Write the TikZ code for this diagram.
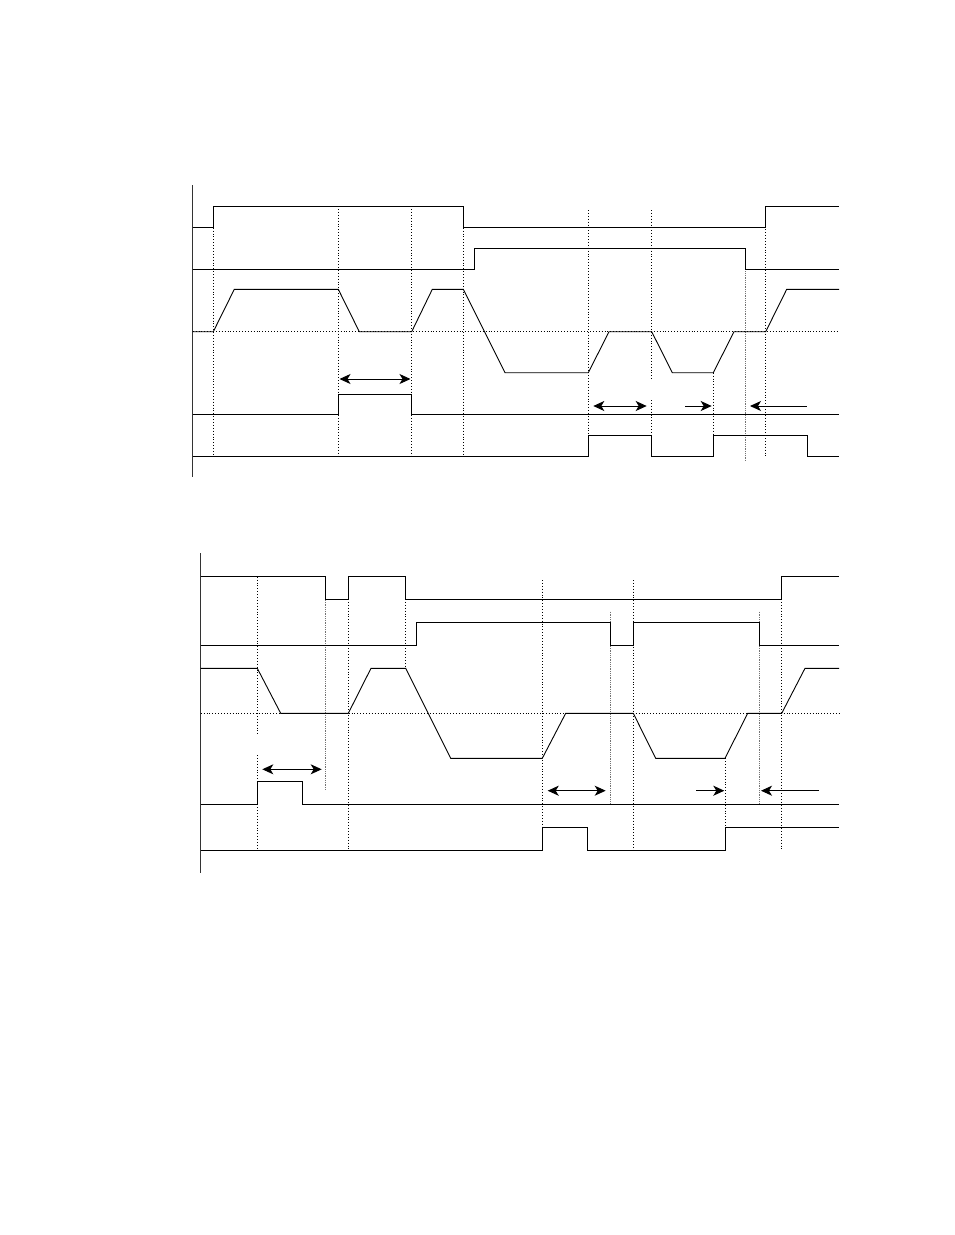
\documentclass[tikz,border=0pt]{standalone}
\usetikzlibrary{arrows.meta}
\begin{document}
\begin{tikzpicture}[x=1pt,y=-1pt,
  sig/.style={line width=0.9pt,black},
  vdot/.style={dotted,line width=0.9pt,black},
  gdot/.style={densely dotted,line width=0.8pt,black!55},
  axisline/.style={line width=1pt,black!80},
  tipx/.tip={Stealth[length=11pt,width=10pt,inset=3pt]},
  darr/.style={line width=1pt,tipx-tipx},
  rarr/.style={line width=1pt,-tipx}]
\useasboundingbox (0,0) rectangle (954,1235);

% ================= TOP DIAGRAM =================
\draw[axisline] (192.7,185) -- (192.7,476.7);
% dotted verticals
\draw[vdot] (213.3,227.7) -- (213.3,456);
\draw[vdot] (338.3,209) -- (338.3,456);
\draw[vdot] (411.7,209) -- (411.7,456);
\draw[vdot] (463.3,227.7) -- (463.3,456);
\draw[vdot] (588.3,210) -- (588.3,456);
\draw[vdot] (651.7,210) -- (651.7,380);
\draw[vdot] (651.7,400) -- (651.7,456);
\draw[vdot] (713.3,372.7) -- (713.3,435);
\draw[gdot] (745,269.3) -- (745,461.7);
\draw[vdot] (765.7,206) -- (765.7,456);
\draw[vdot] (192.7,331.7) -- (839,331.7);
% signal 1
\draw[sig] (192.7,227.7) -- (213.3,227.7) -- (213.3,206) -- (463.3,206) -- (463.3,227.7)
  -- (765.7,227.7) -- (765.7,206) -- (839,206);
% signal 2
\draw[sig] (192.7,269.3) -- (474.3,269.3) -- (474.3,248.3) -- (745,248.3) -- (745,269.3) -- (839,269.3);
% signal 3
\draw[sig] (192.7,331.7) -- (213.3,331.7) -- (234.3,289.3) -- (338.3,289.3) -- (359.3,331.7)
  -- (411.7,331.7) -- (432.3,289.3) -- (463.3,289.3) -- (505,372.7) -- (588.3,372.7)
  -- (609,331.7) -- (651.7,331.7) -- (672.3,372.7) -- (713.3,372.7) -- (734,331.7)
  -- (765.7,331.7) -- (786.7,289.3) -- (839,289.3);
% signal 4
\draw[sig] (192.7,414.3) -- (338.3,414.3) -- (338.3,394.3) -- (411.7,394.3) -- (411.7,414.3) -- (839,414.3);
% signal 5
\draw[sig] (192.7,456) -- (588.3,456) -- (588.3,435) -- (651.7,435) -- (651.7,456)
  -- (713.3,456) -- (713.3,435) -- (807.7,435) -- (807.7,456) -- (839,456);
% arrows
\coordinate (ta1) at (339.5,379);
\coordinate (ta2) at (410.5,379);
\draw[darr] (ta1) -- (ta2);
\coordinate (tb1) at (593.3,406);
\coordinate (tb2) at (646.7,406);
\draw[darr] (tb1) -- (tb2);
\coordinate (tc1) at (685,406);
\coordinate (tc2) at (711.7,406);
\draw[rarr] (tc1) -- (tc2);
\coordinate (td1) at (806.7,406);
\coordinate (td2) at (750,406);
\draw[rarr] (td1) -- (td2);

% ================= BOTTOM DIAGRAM =================
\draw[axisline] (200.7,553.3) -- (200.7,873.3);
% dotted verticals
\draw[vdot] (257.3,576.7) -- (257.3,735);
\draw[vdot] (257.3,755) -- (257.3,850);
\draw[gdot] (325.7,600) -- (325.7,790.7);
\draw[vdot] (348.3,599) -- (348.3,850);
\draw[vdot] (405.7,599) -- (405.7,668.3);
\draw[vdot] (542.3,580) -- (542.3,850);
\draw[gdot] (610.7,611.7) -- (610.7,804);
\draw[vdot] (633.3,580) -- (633.3,850);
\draw[vdot] (725,758.3) -- (725,827.3);
\draw[gdot] (759,611.7) -- (759,804);
\draw[vdot] (781.7,599) -- (781.7,850);
\draw[vdot] (200.7,713.3) -- (839,713.3);
% signal 1
\draw[sig] (200.7,576.7) -- (325.7,576.7) -- (325.7,599) -- (348.3,599) -- (348.3,576.7)
  -- (405.7,576.7) -- (405.7,599) -- (781.7,599) -- (781.7,576.7) -- (839,576.7);
% signal 2
\draw[sig] (200.7,645) -- (416.7,645) -- (416.7,622.3) -- (610.7,622.3) -- (610.7,645)
  -- (633.3,645) -- (633.3,622.3) -- (759,622.3) -- (759,645) -- (839,645);
% signal 3
\draw[sig] (200.7,668.3) -- (257.3,668.3) -- (280.7,713.3) -- (348.3,713.3) -- (371,668.3)
  -- (405.7,668.3) -- (450.7,758.3) -- (542.3,758.3) -- (565.7,713.3) -- (633.3,713.3)
  -- (655.7,758.3) -- (725,758.3) -- (747.7,713.3) -- (781.7,713.3) -- (805,668.3) -- (839,668.3);
% signal 4
\draw[sig] (200.7,804) -- (257.3,804) -- (257.3,781.7) -- (302.3,781.7) -- (302.3,804) -- (839,804);
% signal 5
\draw[sig] (200.7,850) -- (542.3,850) -- (542.3,827.3) -- (587.3,827.3) -- (587.3,850)
  -- (725,850) -- (725,827.3) -- (839,827.3);
% arrows
\coordinate (ba1) at (262.3,769.3);
\coordinate (ba2) at (321.7,769.3);
\draw[darr] (ba1) -- (ba2);
\coordinate (bb1) at (547.7,790.7);
\coordinate (bb2) at (605.7,790.7);
\draw[darr] (bb1) -- (bb2);
\coordinate (bc1) at (696,790.7);
\coordinate (bc2) at (724.3,790.7);
\draw[rarr] (bc1) -- (bc2);
\coordinate (bd1) at (819,790.7);
\coordinate (bd2) at (761,790.7);
\draw[rarr] (bd1) -- (bd2);
\end{tikzpicture}
\end{document}
